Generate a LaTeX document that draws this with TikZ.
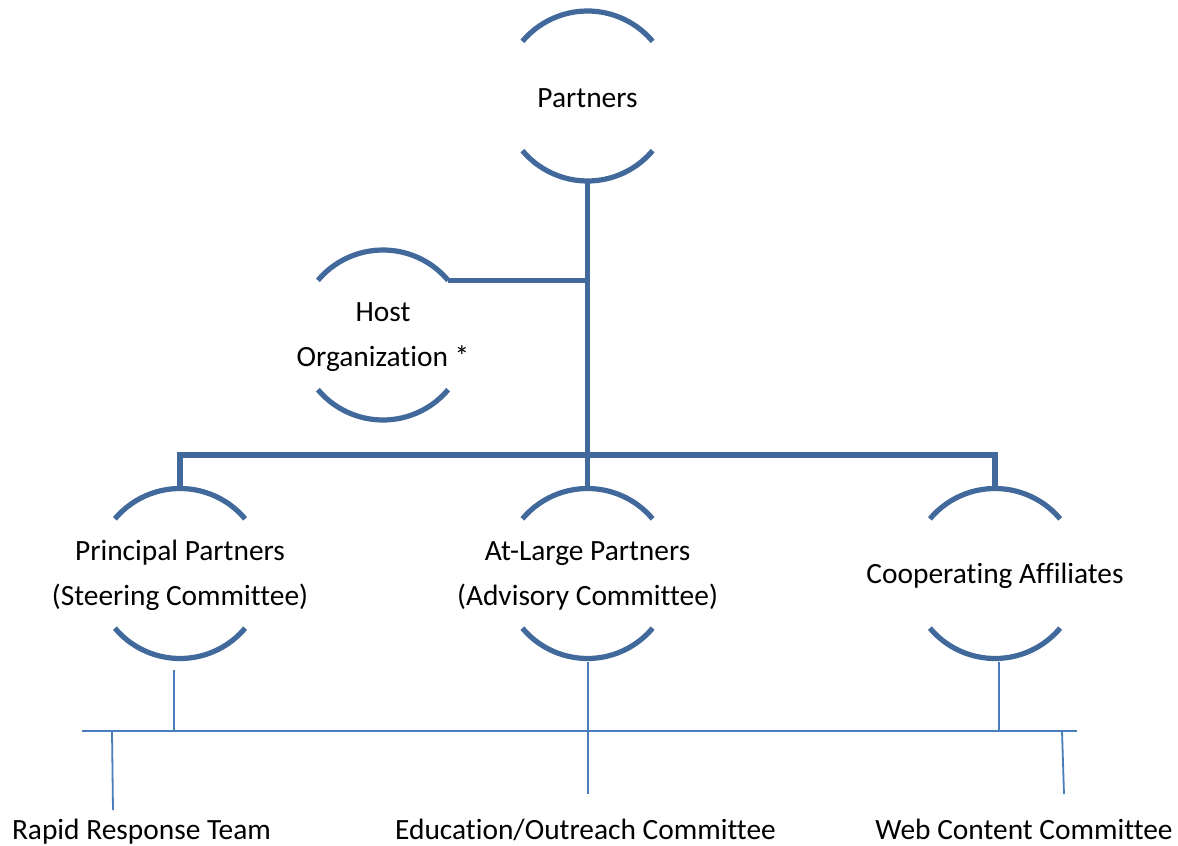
\documentclass[tikz,border=0pt]{standalone}
\usepackage{fontspec}
\setmainfont{Carlito}[Ligatures=NoCommon]
\usepackage{tikz}

\definecolor{chartblue}{HTML}{41699C}
\definecolor{linkblue}{HTML}{4A7EBB}

\tikzset{
  member/.style={circle, minimum size=85pt, inner sep=0pt, outer sep=0pt},
  member text/.style={align=center, font=\fontsize{14.7}{22.5}\selectfont},
  inside/.style={member text, yshift=-1pt},
  thick link/.style={draw=chartblue, line width=2.6pt},
  thin link/.style={draw=linkblue, line width=0.9pt},
}

\begin{document}
\begin{tikzpicture}[x=0.5pt, y=-0.5pt]
\useasboundingbox (0,0) rectangle (1178,846);

\node[
      member,
      label={[inside]center:Partners}%< -- text sits in the middle of the empty circle
] (partners) at (587.5,96) {};
\node[
      member,
      label={[inside]center:Host\\Organization *}
] (host) at (383,335) {};
\node[
      member,
      label={[inside]center:Principal Partners\\(Steering Committee)}
] (principal) at (180,573.5) {};
\node[
      member,
      label={[inside]center:At-Large Partners\\(Advisory Committee)}
] (atlarge) at (587.5,573.5) {};
\node[
      member,
      label={[inside]center:Cooperating Affiliates}
] (coop) at (995,573.5) {};

% only the top and bottom arcs of each circle are drawn
\foreach \m in {partners,host,principal,atlarge,coop}{
  \draw[thick link] (\m.140) arc[start angle=140, end angle=40, radius=42.5pt];
  \draw[thick link] (\m.220) arc[start angle=220, end angle=320, radius=42.5pt];
}

\coordinate (branch) at (587.5,455);
\draw[thick link] (partners.south) -- (atlarge.north);
\draw[thick link] (host.40) -- (host.40 -| partners.south);
\draw[thick link] (principal.north) |- (branch) -| (coop.north);

\node[member text, anchor=base] (rapid) at (141.5,839) {Rapid Response Team};
\node[member text, anchor=base] (edu) at (585.5,839) {Education/Outreach Committee};
\node[member text, anchor=base] (web) at (1024,839) {Web Content Committee};

% thin lines to the committees
\coordinate (busL) at (82,731);
\coordinate (busR) at (1077,731);
\coordinate (pdrop) at ([shift={(-6,11.5)}]principal.south);
\coordinate (adrop) at ([shift={(0.5,3.5)}]atlarge.south);
\coordinate (cdrop) at ([shift={(4,3.5)}]coop.south);
\coordinate (rapidtop) at (112,731);
\coordinate (rapidend) at (113,810);
\coordinate (eduend) at (588,794);
\coordinate (webtop) at (1062,731);
\coordinate (webend) at (1064,794);

\draw[thin link] (busL) -- (busR);
\draw[thin link] (pdrop) -- (pdrop |- busL);
\draw[thin link] (cdrop) -- (cdrop |- busL);
\draw[thin link] (adrop) -- (eduend);
\draw[thin link] (rapidtop) -- (rapidend);
\draw[thin link] (webtop) -- (webend);
\end{tikzpicture}
\end{document}
